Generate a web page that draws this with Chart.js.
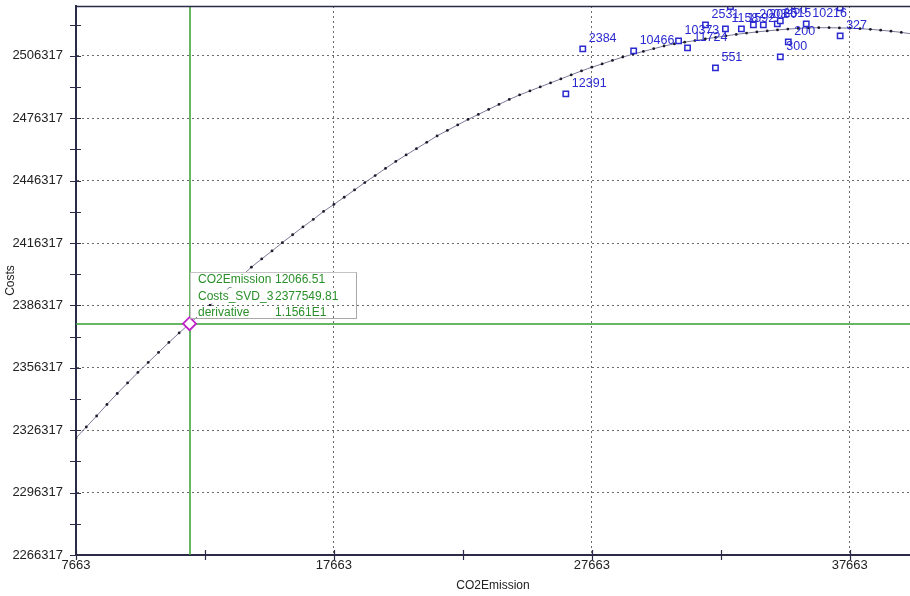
<!DOCTYPE html>
<html>
<head>
<meta charset="utf-8">
<script src="https://cdn.jsdelivr.net/npm/chart.js@4/dist/chart.umd.min.js"></script>
<style>
  html, body { margin: 0; padding: 0; background: #ffffff; }
  canvas { display: block; }
</style>
</head>
<body>
<canvas id="chart" width="910" height="596"></canvas>
<script>
// Fitted cost curve (Costs_SVD_3) sampled along CO2Emission
const fitEmission = [
  7663, 8063, 8463, 8863, 9263, 9663, 10063, 10463, 10863, 11263,
  11663, 12063, 12463, 12863, 13263, 13663, 14063, 14463, 14863, 15263,
  15663, 16063, 16463, 16863, 17263, 17663, 18063, 18463, 18863, 19263,
  19663, 20063, 20463, 20863, 21263, 21663, 22063, 22463, 22863, 23263,
  23663, 24063, 24463, 24863, 25263, 25663, 26063, 26463, 26863, 27263,
  27663, 28063, 28463, 28863, 29263, 29663, 30063, 30463, 30863, 31263,
  31663, 32063, 32463, 32863, 33263, 33663, 34063, 34463, 34863, 35263,
  35663, 36063, 36463, 36863, 37263, 37663, 38063, 38463, 38863, 39263,
  39663, 40063
];
const fitCosts = [
  2322590, 2327880, 2333170, 2338700, 2343990, 2349040, 2354090, 2358900, 2363710, 2368520,
  2373090, 2377530, 2381940, 2386460, 2391030, 2395600, 2400170, 2404740, 2408680, 2412530,
  2416520, 2420320, 2424070, 2427680, 2431530, 2434890, 2438360, 2441870, 2445430, 2448790,
  2452210, 2455580, 2458700, 2461730, 2464760, 2467840, 2470490, 2473130, 2475780, 2478180,
  2480590, 2482990, 2485390, 2487560, 2489480, 2491410, 2493330, 2495250, 2497180, 2499100,
  2500880, 2502470, 2504150, 2505740, 2507180, 2508480, 2509780, 2511080, 2512090, 2512910,
  2513680, 2514490, 2515210, 2515940, 2516660, 2517280, 2517860, 2518340, 2518820, 2519210,
  2519540, 2519780, 2519880, 2519880, 2519780, 2519640, 2519400, 2519110, 2518680, 2518200,
  2517620, 2516900
];

// Observed cases
const obsEmission = [26655, 27312, 29285, 31026, 31374, 32070, 32457, 32844, 33037, 33463,
                     33927, 34314, 34855, 34971, 35281, 34971, 35977, 37292, 37292];
const obsCosts = [2488040, 2509680, 2508720, 2513530, 2510160, 2521230, 2500550, 2519300, 2530100, 2519300,
                  2521230, 2521230, 2521710, 2523150, 2513050, 2505840, 2521710, 2529400, 2515940];
const obsLabels = ['12391', '2384', '10466', '10373', '11724', '2531', '551', '1158', '236', '1592',
                   '2003', '2060', '2515', '250', '200', '300', '10216', '1021', '327'];

// Axis ticks
const xTickValues = [7663, 17663, 27663, 37663];
const yTickValues = [2266317, 2296317, 2326317, 2356317, 2386317, 2416317, 2446317, 2476317, 2506317];

// Cursor readout
const cursorEmission = 12066.51;
const cursorCosts = 2377549.81;
const cursorDerivative = '1.1561E1';
const readoutNames = ['CO2Emission', 'Costs_SVD_3', 'derivative'];

const AXIS = '#2b2b48';
const GREEN = '#33a033';
const BLUE = '#2a2ad0';
const FONT = '"Liberation Sans", Arial, sans-serif';

// the plot frame sits flush with the canvas edges, so drop the label overhang padding
function noOverhang(s) {
  s.paddingTop = 0; s.paddingBottom = 0; s.paddingLeft = 0; s.paddingRight = 0;
}

const decor = {
  id: 'decor',
  beforeDatasetsDraw(chart) {
    const { ctx, chartArea: a, scales: { x, y } } = chart;
    const cx = Math.round(x.getPixelForValue(cursorEmission));
    const cy = Math.round(y.getPixelForValue(cursorCosts));
    ctx.save();
    ctx.strokeStyle = GREEN;
    ctx.lineWidth = 1.5;
    ctx.beginPath();
    ctx.moveTo(cx, a.top); ctx.lineTo(cx, a.bottom);
    ctx.moveTo(a.left, cy); ctx.lineTo(a.right, cy);
    ctx.stroke();
    ctx.restore();
  },
  afterDatasetsDraw(chart) {
    const { ctx, chartArea: a, scales: { x, y } } = chart;

    // point labels
    ctx.save();
    ctx.beginPath();
    ctx.rect(a.left, a.top, a.right - a.left, a.bottom - a.top);
    ctx.clip();
    ctx.font = '12.5px ' + FONT;
    ctx.fillStyle = BLUE;
    ctx.textBaseline = 'middle';
    ctx.textAlign = 'left';
    obsLabels.forEach((t, i) => {
      const px = x.getPixelForValue(obsEmission[i]);
      const py = y.getPixelForValue(obsCosts[i]);
      ctx.fillText(t, px + 6, py - 10);
    });
    ctx.restore();

    // frame top line and tick crosses
    ctx.save();
    ctx.strokeStyle = AXIS;
    ctx.lineWidth = 1.5;
    ctx.beginPath();
    ctx.moveTo(a.left, a.top + 0.5); ctx.lineTo(a.right, a.top + 0.5);
    ctx.stroke();
    ctx.lineWidth = 1.2;
    ctx.beginPath();
    const yStep = yTickValues[1] - yTickValues[0];
    yTickValues.forEach(v => {
      [v, v + yStep / 2].forEach(t => {
        if (t > y.max) return;
        const py = Math.round(y.getPixelForValue(t)) + 0.5;
        ctx.moveTo(a.left - 6, py); ctx.lineTo(a.left + 5, py);
      });
    });
    const xStep = xTickValues[1] - xTickValues[0];
    xTickValues.forEach(v => {
      [v, v + xStep / 2].forEach(t => {
        if (t > x.max) return;
        const px = Math.round(x.getPixelForValue(t)) + 0.5;
        ctx.moveTo(px, a.bottom - 5); ctx.lineTo(px, a.bottom + 5);
      });
    });
    ctx.stroke();
    ctx.restore();

    // cursor readout box
    const cx = Math.round(x.getPixelForValue(cursorEmission));
    const cy = Math.round(y.getPixelForValue(cursorCosts));
    const values = [cursorEmission.toFixed(2), cursorCosts.toFixed(2), cursorDerivative];
    const bx = cx, by = cy - 52, bw = 166, bh = 46;
    ctx.save();
    ctx.font = '12px ' + FONT;
    ctx.textBaseline = 'middle';
    ctx.textAlign = 'left';
    readoutNames.forEach((name, i) => {
      const ly = cy - 44 + i * 16.5;
      const end = cx + 85 + ctx.measureText(values[i]).width;
      ctx.fillStyle = '#ffffff';
      ctx.fillRect(cx + 7, ly - 7, end - (cx + 7) + 1, 14);
      ctx.fillStyle = '#2a8f2a';
      ctx.fillText(name, cx + 8, ly);
      ctx.fillText(values[i], cx + 85, ly);
    });
    ctx.strokeStyle = '#c4c4c4';
    ctx.lineWidth = 1;
    ctx.strokeRect(bx + 0.5, by + 0.5, bw, bh);
    ctx.strokeStyle = '#a8a8a8';
    ctx.beginPath();
    ctx.moveTo(bx + bw + 0.5, by + 0.5); ctx.lineTo(bx + bw + 0.5, by + bh + 0.5); ctx.lineTo(bx, by + bh + 0.5);
    ctx.stroke();
    ctx.restore();
  }
};

new Chart(document.getElementById('chart'), {
  type: 'scatter',
  data: {
    datasets: [
      {
        label: 'Costs_SVD_3',
        data: fitEmission.map((v, i) => ({ x: v, y: fitCosts[i] })),
        showLine: true,
        borderColor: '#7a7a98',
        borderWidth: 1,
        pointRadius: 1.4,
        pointBackgroundColor: '#1c1c2c',
        pointBorderWidth: 0,
        order: 3
      },
      {
        label: 'Costs',
        data: obsEmission.map((v, i) => ({ x: v, y: obsCosts[i] })),
        pointStyle: 'rect',
        pointRadius: 3.8,
        pointBackgroundColor: '#ffffff',
        pointBorderColor: BLUE,
        pointBorderWidth: 1.5,
        order: 2
      },
      {
        label: 'cursor',
        data: [{ x: cursorEmission, y: cursorCosts }],
        pointStyle: 'rectRot',
        pointRadius: 6.5,
        pointBackgroundColor: '#ffffff',
        pointBorderColor: '#c020c8',
        pointBorderWidth: 1.8,
        order: 1
      }
    ]
  },
  options: {
    responsive: false,
    animation: false,
    events: [],
    devicePixelRatio: 1,
    layout: { autoPadding: false, padding: { top: 6, left: 0, right: 0, bottom: 0 } },
    plugins: { legend: { display: false }, tooltip: { enabled: false } },
    scales: {
      x: {
        type: 'linear',
        min: 7663,
        max: 40000,
        afterBuildTicks: s => { s.ticks = xTickValues.map(v => ({ value: v })); },
        afterFit: s => { s.height = 41; noOverhang(s); },
        grid: { color: '#6a6a6a', lineWidth: 1, drawTicks: false },
        border: { display: true, color: AXIS, width: 2, dash: [2, 3] },
        ticks: {
          padding: 3,
          color: '#222222',
          font: { family: FONT, size: 13 },
          maxRotation: 0,
          callback: v => String(v)
        },
        title: {
          display: true,
          text: 'CO2Emission',
          color: '#222222',
          font: { family: FONT, size: 12 },
          padding: { top: 0, bottom: 3 }
        }
      },
      y: {
        type: 'linear',
        min: 2266317,
        max: 2530317,
        afterBuildTicks: s => { s.ticks = yTickValues.map(v => ({ value: v })); },
        afterFit: s => { s.width = 76; noOverhang(s); },
        grid: { color: '#6a6a6a', lineWidth: 1, drawTicks: false },
        border: { display: true, color: AXIS, width: 2, dash: [2, 3] },
        ticks: {
          padding: 13,
          color: '#222222',
          font: { family: FONT, size: 13 },
          callback: v => String(v)
        },
        title: {
          display: true,
          text: 'Costs',
          color: '#222222',
          font: { family: FONT, size: 12 },
          padding: { top: 3, bottom: 0 }
        }
      }
    }
  },
  plugins: [decor]
});
</script>
</body>
</html>
